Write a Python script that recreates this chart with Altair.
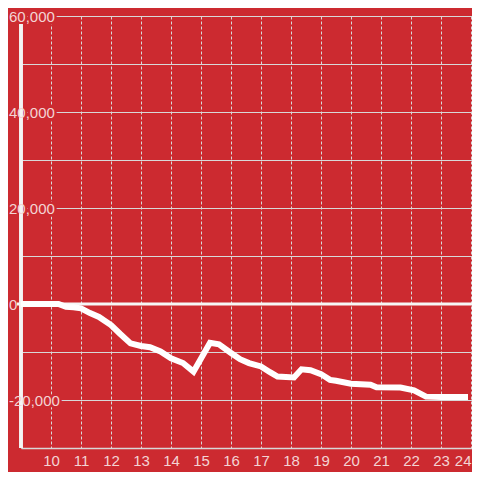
import altair as alt
import pandas as pd

# data
hours = [9.0, 10.25, 10.5, 10.75, 11.0, 11.3, 11.6, 12.0, 12.3, 12.65, 13.0, 13.3,
         13.65, 14.0, 14.4, 14.75, 15.3, 15.6, 16.0, 16.3, 16.6, 17.0, 17.3, 17.55,
         18.1, 18.35, 18.65, 19.0, 19.3, 19.5, 20.0, 20.65, 20.85, 21.65, 22.1, 22.5,
         23.0, 23.9]
values = [0, 0, -600, -700, -900, -1900, -2700, -4400, -6200, -8200, -8750, -9000,
          -9900, -11300, -12300, -14100, -8100, -8400, -10200, -11500, -12300, -13000,
          -14200, -15100, -15300, -13600, -13800, -14600, -15800, -16000, -16600, -16800,
          -17350, -17400, -18000, -19300, -19400, -19400]
x_ticks = list(range(10, 25))
y_grid = list(range(-30000, 60001, 10000))
y_labels = [60000, 40000, 20000, 0, -20000]

BG = "#cc2a30"
LABEL = "#f3d4d4"
GRID = "#d8d8d8"
W, H = 451, 432

df = pd.DataFrame({"h": hours, "v": values})
lab = pd.DataFrame({"v": y_labels})
lab["t"] = lab["v"].map(lambda n: f"{n:,}")
zero = pd.DataFrame({"v": [0]})

xs = alt.Scale(domain=[9, 9 + W / 30], nice=False, zero=False)
ys = alt.Scale(domain=[-30000, 60000], nice=False, zero=False)
x_axis = alt.Axis(values=x_ticks, grid=True, gridDash=[3, 2], gridColor=GRID,
                  gridWidth=1, domain=True, domainColor=GRID, domainWidth=1.5,
                  ticks=False, labelPadding=5, labelFontSize=15, labelColor=LABEL,
                  labelFont="Liberation Sans", format="d", title=None)
y_axis = alt.Axis(values=y_grid, grid=True, gridColor=GRID, gridWidth=1,
                  labels=False, ticks=False, domain=False, title=None)

def Y(field="v"):
    return alt.Y(f"{field}:Q", scale=ys, axis=y_axis)

line = alt.Chart(df).mark_line(color="white", strokeWidth=6).encode(
    x=alt.X("h:Q", scale=xs, axis=x_axis),
    y=Y(),
)

halo = alt.Chart(lab).mark_text(
    align="left", baseline="middle", dy=1, fontSize=15, font="Liberation Sans",
    fill=BG, stroke=BG, strokeWidth=5,
).encode(x=alt.value(-12), y=Y(), text="t:N")

axis_rule = alt.Chart(lab).mark_rule(color="#f4f4f4", strokeWidth=3).encode(
    x=alt.value(0), y=alt.value(8), y2=alt.value(H)
)

zero_rule = alt.Chart(zero).mark_rule(color="#f6f6f6", strokeWidth=3).encode(
    x=alt.value(-4), x2=alt.value(W), y=Y()
)

labels = alt.Chart(lab).mark_text(
    align="left", baseline="middle", dy=1, fontSize=15, font="Liberation Sans",
    color=LABEL,
).encode(x=alt.value(-12), y=Y(), text="t:N")

chart = alt.layer(halo, axis_rule, zero_rule, line, labels).properties(
    width=W, height=H, background=BG,
    autosize=alt.AutoSizeParams(type="none"),
    padding={"left": 13, "top": 8, "right": 0, "bottom": 24},
).configure_view(stroke=None)

chart.save("out.html", embed_options={"renderer": "svg", "actions": False})
